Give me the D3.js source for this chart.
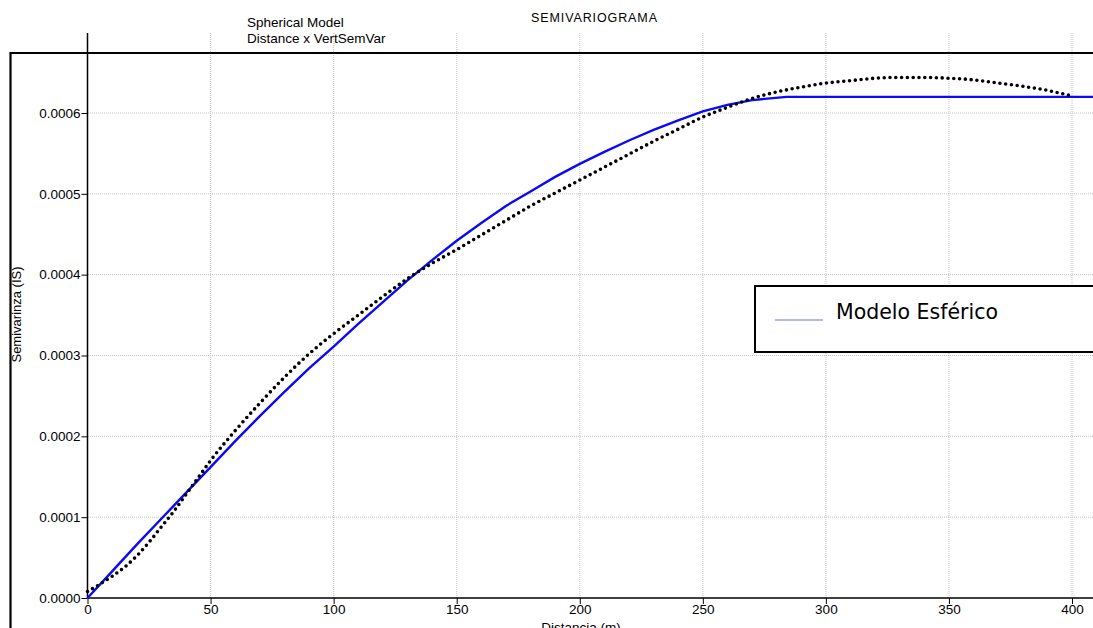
<!DOCTYPE html>
<html lang="es">
<head>
<meta charset="UTF-8">
<title>Semivariograma</title>
<script src="https://d3js.org/d3.v7.min.js"></script>
<style>
  body { margin: 0; background: #fff; }
  svg { display: block; }
  text { font-family: "Liberation Sans", Arial, sans-serif; fill: #000; }
  .grid line { stroke: #c4c4c4; stroke-width: 1; stroke-dasharray: 1,1; }
  .axis path, .axis line { stroke: #000; }
</style>
</head>
<body>
<div id="chart"></div>
<script>
// experimental semivariogram (dotted)
var expDist  = [0, 5, 10, 15, 20, 25, 30, 35, 40, 45, 50, 60, 70, 80, 90, 100, 110, 120, 130, 140, 150,
                160, 170, 180, 190, 200, 210, 220, 230, 240, 250, 260, 270, 280, 290, 300, 310, 320,
                330, 340, 350, 360, 370, 380, 390, 400];
var expGamma = [0.000008, 0.000017, 0.000027, 0.000038, 0.000052, 0.000069, 0.000088, 0.000107, 0.000128,
                0.000149, 0.000170, 0.000207, 0.000241, 0.000273, 0.000302, 0.000327, 0.000350, 0.000373,
                0.000395, 0.000414, 0.000431, 0.000449, 0.000467, 0.000485, 0.000501, 0.000517, 0.000533,
                0.000549, 0.000565, 0.000580, 0.000595, 0.000607, 0.000618, 0.000626, 0.000632, 0.000637,
                0.000640, 0.000643, 0.000644, 0.000644, 0.000643, 0.000641, 0.000637, 0.000633, 0.000628,
                0.000621];

// spherical model (blue)
var modDist  = [0, 10, 20, 30, 40, 50, 60, 70, 80, 90, 100, 110, 120, 130, 140, 150, 160, 170, 180,
                190, 200, 210, 220, 230, 240, 250, 260, 270, 284, 410];
var modGamma = [0, 0.000033, 0.000066, 0.000098, 0.000130, 0.000162, 0.000194, 0.000225, 0.000255,
                0.000284, 0.000311, 0.000339, 0.000366, 0.000393, 0.000418, 0.000442, 0.000464, 0.000485,
                0.000503, 0.000521, 0.000537, 0.000552, 0.000566, 0.000579, 0.000591, 0.000602, 0.000610,
                0.000616, 0.000620, 0.000620];

var xTicks = [0, 50, 100, 150, 200, 250, 300, 350, 400];
var yTicks = [0, 0.0001, 0.0002, 0.0003, 0.0004, 0.0005, 0.0006];

var width = 1093, height = 628;
var svg = d3.select("#chart").append("svg")
    .attr("width", width)
    .attr("height", height);

var x = d3.scaleLinear().domain([0, 400]).range([87.5, 1072]);
var y = d3.scaleLinear().domain([0, 0.0006]).range([598, 113]);

// grid
svg.append("g").attr("class", "grid")
    .selectAll("line.v").data(xTicks.slice(1)).join("line")
    .attr("x1", d => x(d)).attr("x2", d => x(d))
    .attr("y1", 33).attr("y2", 598);
svg.append("g").attr("class", "grid")
    .selectAll("line.h").data(yTicks.slice(1)).join("line")
    .attr("x1", 88).attr("x2", width)
    .attr("y1", d => y(d)).attr("y2", d => y(d));

// outer frame
svg.append("path")
    .attr("d", "M10.5," + height + "V53H" + width)
    .attr("fill", "none").attr("stroke", "#000").attr("stroke-width", 2.2);

// axes
var xAxis = svg.append("g").attr("class", "axis")
    .attr("transform", "translate(0,598)")
    .call(d3.axisBottom(x).tickValues(xTicks).tickSize(6).tickSizeOuter(0));
xAxis.select(".domain").attr("d", "M87.5,0H" + width).attr("stroke-width", 1.5);
xAxis.selectAll("text").attr("font-size", "13.5px").attr("dy", "0.55em")
    .style("font-family", "'Liberation Sans', Arial, sans-serif");

var yAxis = svg.append("g").attr("class", "axis")
    .attr("transform", "translate(87.5,0)")
    .call(d3.axisLeft(y).tickValues(yTicks).tickFormat(d3.format(".4f")).tickSize(6).tickSizeOuter(0));
yAxis.select(".domain").attr("d", "M0,33V598").attr("stroke-width", 1.5);
yAxis.selectAll("text").attr("font-size", "13.5px").attr("x", -7)
    .style("font-family", "'Liberation Sans', Arial, sans-serif");

// lines
var model = d3.line()
    .x((d, i) => x(modDist[i]))
    .y(d => y(d));
svg.append("path")
    .datum(modGamma)
    .attr("d", model)
    .attr("fill", "none")
    .attr("stroke", "#0a0af5")
    .attr("stroke-width", 2.4);

var exper = d3.line()
    .x((d, i) => x(expDist[i]))
    .y(d => y(d))
    .curve(d3.curveMonotoneX);
svg.append("path")
    .datum(expGamma)
    .attr("d", exper)
    .attr("fill", "none")
    .attr("stroke", "#000")
    .attr("stroke-width", 3.6)
    .attr("stroke-linecap", "round")
    .attr("stroke-dasharray", "0 5.8");

// titles
svg.append("text").attr("x", 594).attr("y", 21.5).attr("text-anchor", "middle")
    .attr("font-size", "12.5px").attr("textLength", 126).text("SEMIVARIOGRAMA");
svg.append("text").attr("x", 247).attr("y", 26.5).attr("font-size", "13.5px")
    .text("Spherical Model");
svg.append("text").attr("x", 247).attr("y", 42.5).attr("font-size", "13.5px")
    .text("Distance x VertSemVar");

// axis titles
svg.append("text").attr("x", 581).attr("y", 632).attr("text-anchor", "middle")
    .attr("font-size", "13.5px").text("Distancia (m)");
svg.append("text")
    .attr("transform", "translate(20.5,314.5) rotate(-90)")
    .attr("text-anchor", "middle").attr("font-size", "13px")
    .text("Semivarinza (IS)");

// legend
var legend = svg.append("g");
legend.append("rect")
    .attr("x", 755).attr("y", 286).attr("width", 400).attr("height", 66)
    .attr("fill", "#fff").attr("stroke", "#000").attr("stroke-width", 2);
legend.append("line")
    .attr("x1", 775).attr("x2", 823).attr("y1", 320).attr("y2", 320)
    .attr("stroke", "#6b6bff").attr("stroke-width", 1.2);
legend.append("text")
    .attr("x", 836).attr("y", 318.5)
    .attr("font-size", "20.5px")
    .style("font-family", "'DejaVu Sans', Verdana, sans-serif")
    .text("Modelo Esférico");
</script>
</body>
</html>
